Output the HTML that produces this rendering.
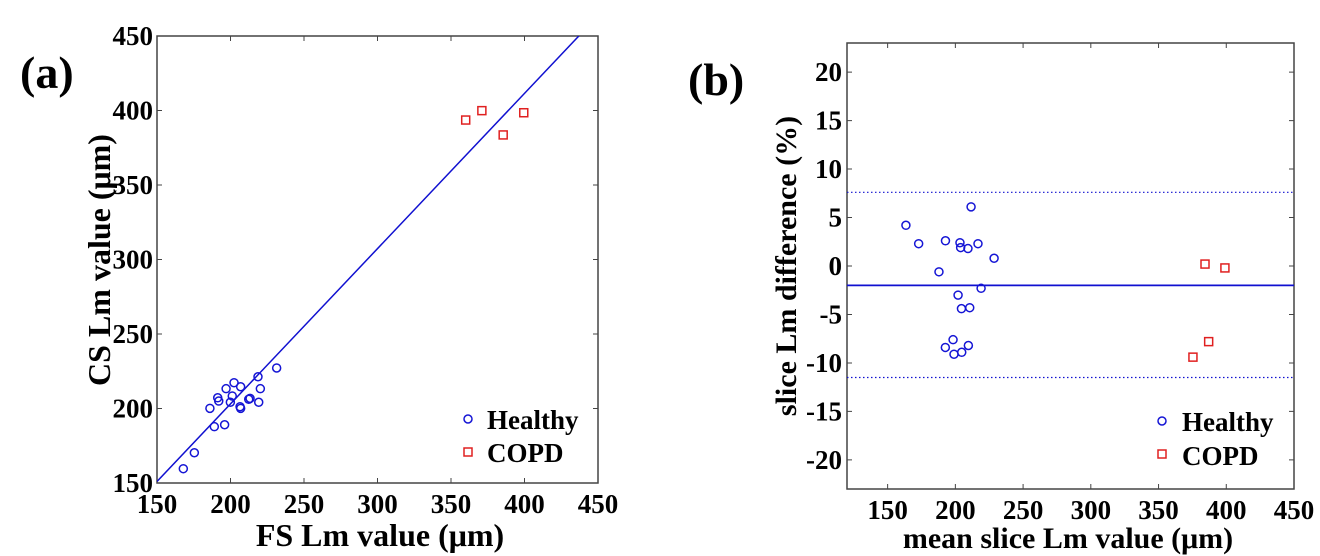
<!DOCTYPE html>
<html><head><meta charset="utf-8"><style>
html,body{margin:0;padding:0;background:#fff;}
svg{display:block;}
svg text{font-family:"Liberation Serif","Times New Roman",serif;font-weight:bold;}
</style></head><body>
<svg id="fig" width="1320" height="556" viewBox="0 0 1320 556" xmlns="http://www.w3.org/2000/svg">
<text x="20" y="88" font-size="46">(a)</text>
<text x="688" y="95" font-size="46">(b)</text>
<g id="ga"></g>
<g id="gb"></g>
</svg>
<script>
// Panel (a) data
const aHealthyX=[167.9,175.4,189,196,186,191.3,192,197,202.4,206.9,201.2,199.9,206.5,206.9,212.4,213.3,218.7,220.3,219.2,231.4];
const aHealthyY=[159.6,170.3,187.8,189.1,200.1,207.2,205,213.3,217.3,214.6,208.4,204.2,201.2,200.1,206.2,206.8,221.3,213.3,204.2,227.2];
const aCopdX=[360,371,385.5,399.5];
const aCopdY=[393.6,399.9,383.6,398.5];
const aFit=[1.042,-5.3];
const aTicks=[150,200,250,300,350,400,450];
// Panel (b) data
const bHealthyX=[163.5,172.9,192.7,203.4,203.9,209.3,216.7,211.6,228.6,187.9,219,202,204.5,210.6,198.3,192.6,199,204.7,209.6];
const bHealthyY=[4.2,2.3,2.6,2.4,1.9,1.8,2.3,6.1,0.8,-0.6,-2.3,-3.0,-4.4,-4.3,-7.6,-8.4,-9.1,-8.9,-8.2];
const bCopdX=[384.3,399,387,375.4];
const bCopdY=[0.2,-0.2,-7.8,-9.4];
const bMean=[-2];
const bLimits=[7.6,-11.5];
const bXTicks=[150,200,250,300,350,400,450];
const bYTicks=[20,15,10,5,0,-5,-10,-15,-20];

const NS='http://www.w3.org/2000/svg';
function mk(parent,tag,attrs,text){const e=document.createElementNS(NS,tag);for(const k in attrs)e.setAttribute(k,attrs[k]);if(text!==undefined)e.textContent=text;parent.appendChild(e);return e;}

// ---- Panel a
const ga=document.getElementById('ga');
const AX0=157,AX1=598,AY0=483,AY1=36;
const ax=v=>AX0+(v-150)/300*(AX1-AX0);
const ay=v=>AY0-(v-150)/300*(AY0-AY1);
let cp=mk(ga,'clipPath',{id:'ca'});mk(cp,'rect',{x:AX0,y:AY1,width:AX1-AX0,height:AY0-AY1});
let e=mk(ga,'rect',{x:AX0,y:AY1,width:AX1-AX0,height:AY0-AY1,fill:'none',stroke:'#444','stroke-width':1.5});


aTicks.forEach(t=>{
 const x=ax(t),y=ay(t);
 e=mk(ga,'path',{d:`M${x},${AY0}v-5M${x},${AY1}v5M${AX0},${y}h5M${AX1},${y}h-5`,stroke:'#444','stroke-width':1});
 
 
 e=mk(ga,'text',{x:x,y:AY0+30,'font-size':27,'text-anchor':'middle'},t);
 
 
 e=mk(ga,'text',{x:AX0-4,y:y+9,'font-size':27,'text-anchor':'end'},t);
 
 
});
e=mk(ga,'line',{x1:ax(150),y1:ay(aFit[0]*150+aFit[1]),x2:ax(450),y2:ay(aFit[0]*450+aFit[1]),stroke:'#1010d0','stroke-width':1.5,'clip-path':'url(#ca)'});


aHealthyX.forEach((v,i)=>{e=mk(ga,'circle',{cx:ax(v),cy:ay(aHealthyY[i]),r:4,fill:'none',stroke:'#1515d5','stroke-width':1.5});
 
 });
aCopdX.forEach((v,i)=>{e=mk(ga,'rect',{x:ax(v)-4,y:ay(aCopdY[i])-4,width:8,height:8,fill:'none',stroke:'#e02020','stroke-width':1.5});
 
 });
e=mk(ga,'circle',{cx:468,cy:419,r:4,fill:'none',stroke:'#1515d5','stroke-width':1.5});


e=mk(ga,'text',{x:487,y:429,'font-size':27},'Healthy');


e=mk(ga,'rect',{x:464,y:448,width:8,height:8,fill:'none',stroke:'#e02020','stroke-width':1.5});


e=mk(ga,'text',{x:487,y:462,'font-size':27},'COPD');


e=mk(ga,'text',{x:380,y:546,'font-size':32,'text-anchor':'middle'},'FS Lm value (μm)');


e=mk(ga,'text',{x:0,y:0,'font-size':32,'text-anchor':'middle',transform:'translate(110,260) rotate(-90)'},'CS Lm value (μm)');



// ---- Panel b
const gb=document.getElementById('gb');
const BX0=847,BX1=1294,BY0=489,BY1=43;
const bx=v=>BX0+(v-120)/330*(BX1-BX0);
const by=v=>BY0-(v+23)/46*(BY0-BY1);
e=mk(gb,'rect',{x:BX0,y:BY1,width:BX1-BX0,height:BY0-BY1,fill:'none',stroke:'#444','stroke-width':1.5});


bXTicks.forEach(t=>{const x=bx(t);
 e=mk(gb,'path',{d:`M${x},${BY0}v-5M${x},${BY1}v5`,stroke:'#444','stroke-width':1});
 
 
 e=mk(gb,'text',{x:x,y:BY0+30,'font-size':27,'text-anchor':'middle'},t);
 
 });
bYTicks.forEach(t=>{const y=by(t);
 e=mk(gb,'path',{d:`M${BX0},${y}h5M${BX1},${y}h-5`,stroke:'#444','stroke-width':1});
 
 
 e=mk(gb,'text',{x:BX0-5,y:y+9,'font-size':27,'text-anchor':'end'},t);
 
 });
e=mk(gb,'line',{x1:BX0,x2:BX1,y1:by(bMean[0]),y2:by(bMean[0]),stroke:'#1010d0','stroke-width':1.8});


bLimits.forEach(v=>{e=mk(gb,'line',{x1:BX0,x2:BX1,y1:by(v),y2:by(v),stroke:'#1010d0','stroke-width':1.2,'stroke-dasharray':'1.5,2.5'});
 
 });
bHealthyX.forEach((v,i)=>{e=mk(gb,'circle',{cx:bx(v),cy:by(bHealthyY[i]),r:4,fill:'none',stroke:'#1515d5','stroke-width':1.5});
 
 });
bCopdX.forEach((v,i)=>{e=mk(gb,'rect',{x:bx(v)-4,y:by(bCopdY[i])-4,width:8,height:8,fill:'none',stroke:'#e02020','stroke-width':1.5});
 
 });
e=mk(gb,'circle',{cx:1162,cy:421,r:4,fill:'none',stroke:'#1515d5','stroke-width':1.5});


e=mk(gb,'text',{x:1182,y:431,'font-size':27},'Healthy');


e=mk(gb,'rect',{x:1158,y:450,width:8,height:8,fill:'none',stroke:'#e02020','stroke-width':1.5});


e=mk(gb,'text',{x:1182,y:465,'font-size':27},'COPD');


e=mk(gb,'text',{x:1068,y:548,'font-size':30,'text-anchor':'middle'},'mean slice Lm value (μm)');


e=mk(gb,'text',{x:0,y:0,'font-size':30,'text-anchor':'middle',transform:'translate(796,266) rotate(-90)'},'slice Lm difference (%)');


</script>
</body></html>
